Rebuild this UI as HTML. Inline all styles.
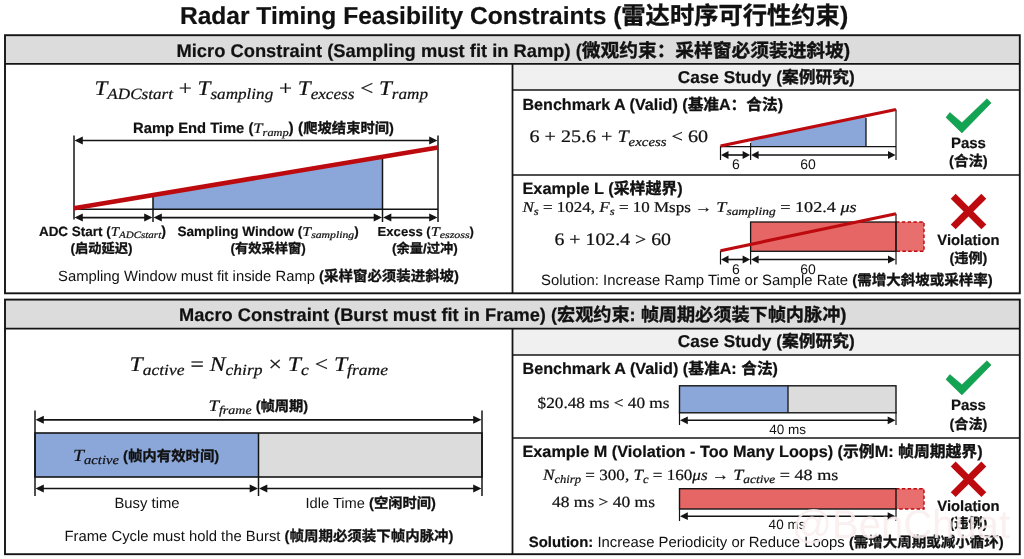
<!DOCTYPE html>
<html lang="zh"><head><meta charset="utf-8"><title>Radar Timing Feasibility Constraints</title>
<style>
html,body{margin:0;padding:0;background:#fff;}
body{width:1024px;height:559px;overflow:hidden;position:relative;font-family:"Liberation Sans","Noto Sans CJK SC",sans-serif;}
svg{position:absolute;left:0;top:0;display:block;}
text{white-space:pre;}
.b{font-family:"Liberation Sans","Noto Sans CJK SC",sans-serif;font-weight:700;stroke:#111;stroke-width:0.2px;}
.c{font-family:"Liberation Sans","Noto Sans CJK SC",sans-serif;font-weight:700;stroke:#111;stroke-width:0.35px;}
.r{font-family:"Liberation Sans","Noto Sans CJK SC",sans-serif;font-weight:400;}
.i{font-family:"Liberation Serif","Noto Serif CJK SC",serif;font-style:italic;stroke:#111;stroke-width:0.22px;}
.m{font-family:"Liberation Serif","Noto Serif CJK SC",serif;stroke:#111;stroke-width:0.22px;}
</style></head><body>
<svg width="1024" height="559" viewBox="0 0 1024 559">
<rect x="5" y="35.2" width="1014.8" height="28.599999999999994" fill="#dcdcdc"/>
<rect x="512.5" y="63.8" width="507" height="26.200000000000003" fill="#f0f0f0"/>
<rect x="5" y="35.2" width="1014.8" height="258.1" fill="none" stroke="#141414" stroke-width="1.9"/>
<line x1="5" y1="63.8" x2="1019.5" y2="63.8" stroke="#141414" stroke-width="1.8"/>
<line x1="512.5" y1="63.8" x2="512.5" y2="293.3" stroke="#141414" stroke-width="1.8"/>
<line x1="512.5" y1="90" x2="1019.5" y2="90" stroke="#141414" stroke-width="1.6"/>
<line x1="512.5" y1="175.0" x2="1019.5" y2="175.0" stroke="#141414" stroke-width="1.6"/>
<rect x="5" y="299.6" width="1014.8" height="29.0" fill="#dcdcdc"/>
<rect x="512.5" y="328.6" width="507" height="26.399999999999977" fill="#f0f0f0"/>
<rect x="5" y="299.6" width="1014.8" height="254.60000000000002" fill="none" stroke="#141414" stroke-width="1.9"/>
<line x1="5" y1="328.6" x2="1019.5" y2="328.6" stroke="#141414" stroke-width="1.8"/>
<line x1="512.5" y1="328.6" x2="512.5" y2="554.2" stroke="#141414" stroke-width="1.8"/>
<line x1="512.5" y1="355" x2="1019.5" y2="355" stroke="#141414" stroke-width="1.6"/>
<line x1="512.5" y1="438.0" x2="1019.5" y2="438.0" stroke="#141414" stroke-width="1.6"/>
<polygon points="153,209.2 153,195.10 382.5,156.77 382.5,209.2" fill="#8ba7d9"/>
<line x1="74" y1="209.2" x2="438" y2="209.2" stroke="#141414" stroke-width="1.5"/>
<line x1="74" y1="135.5" x2="74" y2="219.5" stroke="#141414" stroke-width="1.5"/>
<line x1="438" y1="135.5" x2="438" y2="222" stroke="#141414" stroke-width="1.5"/>
<line x1="153" y1="195" x2="153" y2="222" stroke="#141414" stroke-width="1.5"/>
<line x1="382.5" y1="157" x2="382.5" y2="222" stroke="#141414" stroke-width="1.5"/>
<line x1="74" y1="208.3" x2="438" y2="147.5" stroke="#bd0a0e" stroke-width="4.6"/>
<line x1="81.80" y1="140.5" x2="430.20" y2="140.5" stroke="#141414" stroke-width="1.7"/><polygon points="74.50,140.5 82.80,136.5 82.80,144.5" fill="#141414"/><polygon points="437.50,140.5 429.20,136.5 429.20,144.5" fill="#141414"/>
<line x1="81.80" y1="217.6" x2="145.20" y2="217.6" stroke="#141414" stroke-width="1.7"/><polygon points="74.50,217.6 82.80,213.6 82.80,221.6" fill="#141414"/><polygon points="152.50,217.6 144.20,213.6 144.20,221.6" fill="#141414"/>
<line x1="160.80" y1="217.6" x2="374.70" y2="217.6" stroke="#141414" stroke-width="1.7"/><polygon points="153.50,217.6 161.80,213.6 161.80,221.6" fill="#141414"/><polygon points="382.00,217.6 373.70,213.6 373.70,221.6" fill="#141414"/>
<line x1="390.30" y1="217.6" x2="430.20" y2="217.6" stroke="#141414" stroke-width="1.7"/><polygon points="383.00,217.6 391.30,213.6 391.30,221.6" fill="#141414"/><polygon points="437.50,217.6 429.20,213.6 429.20,221.6" fill="#141414"/>
<polygon points="750.6,146.6 750.6,139.74 866,115.74 866,146.6" fill="#8ba7d9"/>
<line x1="720.5" y1="146.6" x2="896" y2="146.6" stroke="#141414" stroke-width="1.3"/>
<line x1="720.5" y1="146" x2="720.5" y2="160" stroke="#141414" stroke-width="1.2"/>
<line x1="750.6" y1="143" x2="750.6" y2="160" stroke="#141414" stroke-width="1.2"/>
<line x1="866" y1="118" x2="866" y2="146.6" stroke="#141414" stroke-width="1.3"/>
<line x1="896" y1="109.5" x2="896" y2="160" stroke="#141414" stroke-width="1.2"/>
<line x1="720.5" y1="146" x2="896" y2="109.5" stroke="#bd0a0e" stroke-width="3.2"/>
<line x1="727.50" y1="155" x2="743.60" y2="155" stroke="#141414" stroke-width="1.6"/><polygon points="721.00,155 728.50,151.1 728.50,158.9" fill="#141414"/><polygon points="750.10,155 742.60,151.1 742.60,158.9" fill="#141414"/>
<line x1="757.60" y1="155" x2="889.00" y2="155" stroke="#141414" stroke-width="1.6"/><polygon points="751.10,155 758.60,151.1 758.60,158.9" fill="#141414"/><polygon points="895.50,155 888.00,151.1 888.00,158.9" fill="#141414"/>
<rect x="896" y="222" width="28" height="29.3" fill="#e96e6e"/>
<path d="M896 222 H924 V251.3 H896" fill="none" stroke="#bd0a0e" stroke-width="1.4" stroke-dasharray="3.5 2.3"/>
<rect x="750.6" y="222" width="145.4" height="29.3" fill="#e66666" stroke="#141414" stroke-width="1.3"/>
<line x1="720.5" y1="250.7" x2="720.5" y2="264.5" stroke="#141414" stroke-width="1.2"/>
<line x1="750.6" y1="251" x2="750.6" y2="264.5" stroke="#141414" stroke-width="1.2"/>
<line x1="896" y1="213.7" x2="896" y2="264.5" stroke="#141414" stroke-width="1.2"/>
<line x1="720.5" y1="250.7" x2="896" y2="213.7" stroke="#bd0a0e" stroke-width="3.2"/>
<line x1="727.50" y1="259.5" x2="743.60" y2="259.5" stroke="#141414" stroke-width="1.6"/><polygon points="721.00,259.5 728.50,255.6 728.50,263.4" fill="#141414"/><polygon points="750.10,259.5 742.60,255.6 742.60,263.4" fill="#141414"/>
<line x1="757.60" y1="259.5" x2="889.00" y2="259.5" stroke="#141414" stroke-width="1.6"/><polygon points="751.10,259.5 758.60,255.6 758.60,263.4" fill="#141414"/><polygon points="895.50,259.5 888.00,255.6 888.00,263.4" fill="#141414"/>
<polygon points="949.8,112.5 961.9,122.7 987.0,98.7 991.1,102.9 961.9,132.9 946.0,117.4" fill="#12a452" stroke="#0e8f47" stroke-width="0.5"/>
<polygon points="949.8,374.5 961.9,384.7 987.0,360.7 991.1,364.9 961.9,394.9 946.0,379.4" fill="#12a452" stroke="#0e8f47" stroke-width="0.5"/>
<line x1="953.2" y1="196.29999999999998" x2="983.8" y2="226.9" stroke="#bd0a0e" stroke-width="6.9"/><line x1="983.8" y1="196.29999999999998" x2="953.2" y2="226.9" stroke="#bd0a0e" stroke-width="6.9"/>
<line x1="953.2" y1="464.0" x2="983.8" y2="494.6" stroke="#bd0a0e" stroke-width="6.9"/><line x1="983.8" y1="464.0" x2="953.2" y2="494.6" stroke="#bd0a0e" stroke-width="6.9"/>
<rect x="35" y="433" width="223.5" height="44" fill="#8ba7d9"/>
<rect x="258.5" y="433" width="223.5" height="44" fill="#dcdcdc"/>
<rect x="35" y="433" width="447" height="44" fill="none" stroke="#141414" stroke-width="1.6"/>
<line x1="35" y1="410.5" x2="35" y2="496" stroke="#141414" stroke-width="1.5"/>
<line x1="482" y1="410.5" x2="482" y2="496" stroke="#141414" stroke-width="1.5"/>
<line x1="258.5" y1="433" x2="258.5" y2="496" stroke="#141414" stroke-width="1.5"/>
<line x1="42.80" y1="419.8" x2="474.20" y2="419.8" stroke="#141414" stroke-width="1.7"/><polygon points="35.50,419.8 43.80,415.8 43.80,423.8" fill="#141414"/><polygon points="481.50,419.8 473.20,415.8 473.20,423.8" fill="#141414"/>
<line x1="42.80" y1="488.5" x2="250.70" y2="488.5" stroke="#141414" stroke-width="1.7"/><polygon points="35.50,488.5 43.80,484.5 43.80,492.5" fill="#141414"/><polygon points="258.00,488.5 249.70,484.5 249.70,492.5" fill="#141414"/>
<line x1="266.30" y1="488.5" x2="474.20" y2="488.5" stroke="#141414" stroke-width="1.7"/><polygon points="259.00,488.5 267.30,484.5 267.30,492.5" fill="#141414"/><polygon points="481.50,488.5 473.20,484.5 473.20,492.5" fill="#141414"/>
<rect x="679.5" y="385.8" width="108.5" height="27" fill="#8ba7d9"/>
<rect x="788" y="385.8" width="108" height="27" fill="#dcdcdc"/>
<rect x="679.5" y="385.8" width="216.5" height="27" fill="none" stroke="#141414" stroke-width="1.4"/>
<line x1="788" y1="385.8" x2="788" y2="412.8" stroke="#141414" stroke-width="1.3"/>
<line x1="679.5" y1="412" x2="679.5" y2="425" stroke="#141414" stroke-width="1.2"/>
<line x1="896" y1="412" x2="896" y2="425" stroke="#141414" stroke-width="1.2"/>
<line x1="686.80" y1="420.3" x2="888.70" y2="420.3" stroke="#141414" stroke-width="1.6"/><polygon points="680.00,420.3 687.80,416.40000000000003 687.80,424.2" fill="#141414"/><polygon points="895.50,420.3 887.70,416.40000000000003 887.70,424.2" fill="#141414"/>
<rect x="896" y="488.7" width="28" height="20.3" fill="#e96e6e"/>
<path d="M896 488.7 H924 V509 H896" fill="none" stroke="#bd0a0e" stroke-width="1.4" stroke-dasharray="3.5 2.3"/>
<rect x="679.5" y="488.7" width="216.5" height="20.3" fill="#e66666" stroke="#141414" stroke-width="1.4"/>
<line x1="679.5" y1="509" x2="679.5" y2="521" stroke="#141414" stroke-width="1.2"/>
<line x1="896" y1="509" x2="896" y2="521" stroke="#141414" stroke-width="1.2"/>
<line x1="686.80" y1="516.2" x2="888.70" y2="516.2" stroke="#141414" stroke-width="1.6"/><polygon points="680.00,516.2 687.80,512.3000000000001 687.80,520.1" fill="#141414"/><polygon points="895.50,516.2 887.70,512.3000000000001 887.70,520.1" fill="#141414"/>
<g text-rendering="geometricPrecision">
<g fill="#111"><text class="b" font-size="24.00" transform="translate(180.00 23.80) scale(1.0224 1.0224)">Radar Timing Feasibility Constraints (</text><text class="c" font-size="23.40" transform="translate(621.30 23.80) scale(1.0384 1.0384)">雷达时序可行性约束</text><text class="b" font-size="24.00" transform="translate(839.89 23.80) scale(1.0384 1.0384)">)</text></g>
<g fill="#111"><text class="b" font-size="17.50" transform="translate(176.50 56.60) scale(1.0474 1.0474)">Micro Constraint (Sampling must fit in Ramp) (</text><text class="c" font-size="17.06" transform="translate(581.80 56.60) scale(1.0978 1.0978)">微观约束：采样窗必须装进斜坡</text><text class="b" font-size="17.50" transform="translate(843.80 56.60) scale(1.0978 1.0978)">)</text></g>
<g fill="#111"><text class="i" font-size="21.00" transform="translate(94.50 95.00) scale(1.1016 1.0000)">T</text><text class="i" font-size="15.54" transform="translate(107.37 99.20) scale(1.1016 1.0000)">ADCstart</text><text class="m" font-size="21.00" transform="translate(172.97 95.00) scale(1.1016 1.0000)"> + </text><text class="i" font-size="21.00" transform="translate(197.58 95.00) scale(1.1016 1.0000)">T</text><text class="i" font-size="15.54" transform="translate(210.46 99.20) scale(1.1016 1.0000)">sampling</text><text class="m" font-size="21.00" transform="translate(273.20 95.00) scale(1.1016 1.0000)"> + </text><text class="i" font-size="21.00" transform="translate(297.81 95.00) scale(1.1016 1.0000)">T</text><text class="i" font-size="15.54" transform="translate(310.68 99.20) scale(1.1016 1.0000)">excess</text><text class="m" font-size="21.00" transform="translate(354.38 95.00) scale(1.1016 1.0000)"> &lt; </text><text class="i" font-size="21.00" transform="translate(379.00 95.00) scale(1.1016 1.0000)">T</text><text class="i" font-size="15.54" transform="translate(391.87 99.20) scale(1.1016 1.0000)">ramp</text></g>
<g fill="#111"><text class="b" font-size="14.50" transform="translate(133.10 133.00) scale(1.0172 1.0172)">Ramp End Time (</text><text class="i" font-size="14.60" transform="translate(253.30 133.00) scale(1.1416 1.0000)">T</text><text class="i" font-size="10.80" transform="translate(262.58 135.92) scale(1.1416 1.0000)">ramp</text><text class="b" font-size="14.50" transform="translate(288.60 133.00) scale(1.0740 1.0740)">) (</text><text class="c" font-size="14.14" transform="translate(303.30 133.00) scale(1.0111 1.0111)">爬坡结束时间</text><text class="b" font-size="14.50" transform="translate(389.00 133.00) scale(1.0111 1.0111)">)</text></g>
<g fill="#111"><text class="b" font-size="14.50" transform="translate(38.90 235.70) scale(0.9296 0.9296)">ADC Start (</text><text class="i" font-size="13.20" transform="translate(110.80 235.70) scale(1.1251 1.0000)">T</text><text class="i" font-size="9.77" transform="translate(119.06 238.34) scale(1.1251 1.0000)">ADCstart</text><text class="b" font-size="14.50" transform="translate(161.20 235.70) scale(0.9910 0.9910)">)</text></g>
<g fill="#111"><text class="b" font-size="13.60" transform="translate(70.46 253.20)">(</text><text class="c" font-size="13.26" transform="translate(74.99 253.20)">启动延迟</text><text class="b" font-size="13.60" transform="translate(128.01 253.20)">)</text></g>
<g fill="#111"><text class="b" font-size="14.50" transform="translate(177.50 235.70) scale(0.9342 0.9342)">Sampling Window (</text><text class="i" font-size="13.20" transform="translate(302.30 235.70) scale(1.2026 1.0000)">T</text><text class="i" font-size="9.77" transform="translate(311.13 238.34) scale(1.2026 1.0000)">sampling</text><text class="b" font-size="14.50" transform="translate(354.20 235.70) scale(0.9290 0.9290)">)</text></g>
<g fill="#111"><text class="b" font-size="13.60" transform="translate(230.54 253.20)">(</text><text class="c" font-size="13.26" transform="translate(235.07 253.20)">有效采样窗</text><text class="b" font-size="13.60" transform="translate(301.33 253.20)">)</text></g>
<g fill="#111"><text class="b" font-size="14.50" transform="translate(377.60 235.70) scale(0.9022 0.9022)">Excess (</text><text class="i" font-size="13.20" transform="translate(430.70 235.70) scale(1.2246 1.0000)">T</text><text class="i" font-size="9.77" transform="translate(439.69 238.34) scale(1.2246 1.0000)">eszoss</text><text class="b" font-size="14.50" transform="translate(469.60 235.70) scale(0.9084 0.9084)">)</text></g>
<g fill="#111"><text class="b" font-size="13.60" transform="translate(392.02 253.20)">(</text><text class="c" font-size="13.26" transform="translate(396.56 253.20)">余量/过冲</text><text class="b" font-size="13.60" transform="translate(453.24 253.20)">)</text></g>
<g fill="#111"><text class="r" font-size="15.50" transform="translate(58.00 281.00) scale(0.9561 0.9561)">Sampling Window must fit inside Ramp </text><text class="b" font-size="15.50" transform="translate(319.09 281.00) scale(0.9561 0.9561)">(</text><text class="c" font-size="15.11" transform="translate(324.04 281.00) scale(0.9561 0.9561)">采样窗必须装进斜坡</text><text class="b" font-size="15.50" transform="translate(454.06 281.00) scale(0.9561 0.9561)">)</text></g>
<g fill="#111"><text class="b" font-size="15.50" transform="translate(677.80 83.00) scale(1.1091 1.1091)">Case Study (</text><text class="c" font-size="15.11" transform="translate(781.93 83.00) scale(1.1091 1.1091)">案例研究</text><text class="b" font-size="15.50" transform="translate(848.96 83.00) scale(1.1091 1.1091)">)</text></g>
<g fill="#111"><text class="b" font-size="15.00" transform="translate(522.50 109.50) scale(1.0728 1.0728)">Benchmark A (Valid) (</text><text class="c" font-size="14.62" transform="translate(687.64 109.50) scale(1.0728 1.0728)">基准</text><text class="b" font-size="15.00" transform="translate(718.99 109.50) scale(1.0728 1.0728)">A</text><text class="c" font-size="14.62" transform="translate(730.62 109.50) scale(1.0728 1.0728)">：合法</text><text class="b" font-size="15.00" transform="translate(777.64 109.50) scale(1.0728 1.0728)">)</text></g>
<g fill="#111"><text class="m" font-size="17.50" transform="translate(529.50 142.00) scale(1.1477 1.0000)">6 + 25.6 + </text><text class="i" font-size="17.50" transform="translate(617.44 142.00) scale(1.1477 1.0000)">T</text><text class="i" font-size="12.95" transform="translate(628.61 145.50) scale(1.1477 1.0000)">excess</text><text class="m" font-size="17.50" transform="translate(666.54 142.00) scale(1.1477 1.0000)"> &lt; 60</text></g>
<g fill="#111"><text class="r" font-size="14.00" transform="translate(731.90 168.90)">6</text></g>
<g fill="#111"><text class="r" font-size="14.00" transform="translate(800.21 168.90)">60</text></g>
<g fill="#111"><text class="b" font-size="15.00" transform="translate(950.88 148.20)">Pass</text></g>
<g fill="#111"><text class="b" font-size="14.80" transform="translate(949.03 165.50)">(</text><text class="c" font-size="14.43" transform="translate(953.97 165.50)">合法</text><text class="b" font-size="14.80" transform="translate(982.83 165.50)">)</text></g>
<g fill="#111"><text class="b" font-size="15.50" transform="translate(522.50 193.75) scale(1.0517 1.0517)">Example L (</text><text class="c" font-size="15.11" transform="translate(613.70 193.75) scale(1.0517 1.0517)">采样越界</text><text class="b" font-size="15.50" transform="translate(677.26 193.75) scale(1.0517 1.0517)">)</text></g>
<g fill="#111"><text class="i" font-size="15.00" transform="translate(522.50 212.00) scale(1.1330 1.0000)">N</text><text class="i" font-size="11.10" transform="translate(533.85 215.00) scale(1.1330 1.0000)">s</text><text class="m" font-size="15.00" transform="translate(538.75 212.00) scale(1.1330 1.0000)"> = 1024, </text><text class="i" font-size="15.00" transform="translate(599.33 212.00) scale(1.1330 1.0000)">F</text><text class="i" font-size="11.10" transform="translate(609.73 215.00) scale(1.1330 1.0000)">s</text><text class="m" font-size="15.00" transform="translate(614.63 212.00) scale(1.1330 1.0000)"> = 10 Msps → </text><text class="i" font-size="15.00" transform="translate(716.30 212.00) scale(1.2108 1.0000)">T</text><text class="i" font-size="11.10" transform="translate(726.40 215.00) scale(1.2108 1.0000)">sampling</text><text class="m" font-size="15.00" transform="translate(775.67 212.00) scale(1.2108 1.0000)"> = 102.4 </text><text class="i" font-size="15.00" transform="translate(840.41 212.00) scale(1.2108 1.0000)">μs</text></g>
<g fill="#111"><text class="m" font-size="17.50" transform="translate(554.50 244.50) scale(1.1324 1.0000)">6 + 102.4 &gt; 60</text></g>
<g fill="#111"><text class="r" font-size="14.00" transform="translate(731.90 274.20)">6</text></g>
<g fill="#111"><text class="r" font-size="14.00" transform="translate(800.21 274.20)">60</text></g>
<g fill="#111"><text class="b" font-size="14.80" transform="translate(937.29 244.60)">Violation</text></g>
<g fill="#111"><text class="b" font-size="14.50" transform="translate(949.42 263.00)">(</text><text class="c" font-size="14.14" transform="translate(954.27 263.00)">违例</text><text class="b" font-size="14.50" transform="translate(982.53 263.00)">)</text></g>
<g fill="#111"><text class="r" font-size="15.00" transform="translate(541.00 285.00) scale(0.9928 0.9928)">Solution: Increase Ramp Time or Sample Rate </text><text class="b" font-size="15.00" transform="translate(852.23 285.00) scale(0.9928 0.9928)">(</text><text class="c" font-size="14.62" transform="translate(857.20 285.00) scale(0.9928 0.9928)">需增大斜坡或采样率</text><text class="b" font-size="15.00" transform="translate(987.74 285.00) scale(0.9928 0.9928)">)</text></g>
<g fill="#111"><text class="b" font-size="17.50" transform="translate(179.00 320.75) scale(1.0423 1.0423)">Macro Constraint (Burst must fit in Frame) (</text><text class="c" font-size="17.06" transform="translate(557.00 320.75) scale(1.0645 1.0645)">宏观约束: 帧周期必须装下帧内脉冲</text><text class="b" font-size="17.50" transform="translate(840.30 320.75) scale(1.0645 1.0645)">)</text></g>
<g fill="#111"><text class="i" font-size="21.00" transform="translate(129.50 370.70) scale(1.1281 1.0000)">T</text><text class="i" font-size="15.54" transform="translate(142.68 374.90) scale(1.1281 1.0000)">active</text><text class="m" font-size="21.00" transform="translate(184.51 370.70) scale(1.1281 1.0000)"> = </text><text class="i" font-size="21.00" transform="translate(209.72 370.70) scale(1.1281 1.0000)">N</text><text class="i" font-size="15.54" transform="translate(225.53 374.90) scale(1.1281 1.0000)">chirp</text><text class="m" font-size="21.00" transform="translate(262.53 370.70) scale(1.1281 1.0000)"> × </text><text class="i" font-size="21.00" transform="translate(287.74 370.70) scale(1.1281 1.0000)">T</text><text class="i" font-size="15.54" transform="translate(300.92 374.90) scale(1.1281 1.0000)">c</text><text class="m" font-size="21.00" transform="translate(308.71 370.70) scale(1.1281 1.0000)"> &lt; </text><text class="i" font-size="21.00" transform="translate(333.92 370.70) scale(1.1281 1.0000)">T</text><text class="i" font-size="15.54" transform="translate(347.11 374.90) scale(1.1281 1.0000)">frame</text></g>
<g fill="#111"><text class="i" font-size="16.00" transform="translate(208.40 411.20) scale(1.1831 1.0000)">T</text><text class="i" font-size="11.84" transform="translate(218.94 414.40) scale(1.1831 1.0000)">frame</text><text class="b" font-size="14.80" transform="translate(251.60 411.20) scale(0.9884 0.9884)"> (</text><text class="c" font-size="14.43" transform="translate(260.54 411.20) scale(0.9884 0.9884)">帧周期</text><text class="b" font-size="14.80" transform="translate(303.32 411.20) scale(0.9884 0.9884)">)</text></g>
<g fill="#111"><text class="i" font-size="17.00" transform="translate(73.10 460.80) scale(1.1595 1.0000)">T</text><text class="i" font-size="12.58" transform="translate(84.08 464.20) scale(1.1595 1.0000)">active</text><text class="b" font-size="14.80" transform="translate(118.90 460.80) scale(0.9987 0.9987)"> (</text><text class="c" font-size="14.43" transform="translate(127.94 460.80) scale(0.9987 0.9987)">帧内有效时间</text><text class="b" font-size="14.80" transform="translate(214.37 460.80) scale(0.9987 0.9987)">)</text></g>
<g fill="#111"><text class="r" font-size="15.50" transform="translate(114.50 507.50) scale(0.9550 0.9550)">Busy time</text></g>
<g fill="#111"><text class="r" font-size="15.50" transform="translate(305.50 507.50) scale(0.9458 0.9458)">Idle Time </text><text class="b" font-size="15.50" transform="translate(369.06 507.50) scale(0.9458 0.9458)">(</text><text class="c" font-size="15.11" transform="translate(373.95 507.50) scale(0.9458 0.9458)">空闲时间</text><text class="b" font-size="15.50" transform="translate(431.11 507.50) scale(0.9458 0.9458)">)</text></g>
<g fill="#111"><text class="r" font-size="15.50" transform="translate(64.50 541.00) scale(0.9568 0.9568)">Frame Cycle must hold the Burst </text><text class="b" font-size="15.50" transform="translate(284.57 541.00) scale(0.9568 0.9568)">(</text><text class="c" font-size="15.11" transform="translate(289.52 541.00) scale(0.9568 0.9568)">帧周期必须装下帧内脉冲</text><text class="b" font-size="15.50" transform="translate(448.55 541.00) scale(0.9568 0.9568)">)</text></g>
<g fill="#111"><text class="b" font-size="15.50" transform="translate(677.80 347.30) scale(1.1091 1.1091)">Case Study (</text><text class="c" font-size="15.11" transform="translate(781.93 347.30) scale(1.1091 1.1091)">案例研究</text><text class="b" font-size="15.50" transform="translate(848.96 347.30) scale(1.1091 1.1091)">)</text></g>
<g fill="#111"><text class="b" font-size="15.00" transform="translate(522.50 373.75) scale(1.0764 1.0764)">Benchmark A (Valid) (</text><text class="c" font-size="14.62" transform="translate(688.19 373.75) scale(1.0764 1.0764)">基准</text><text class="b" font-size="15.00" transform="translate(719.64 373.75) scale(1.0764 1.0764)">A: </text><text class="c" font-size="14.62" transform="translate(741.17 373.75) scale(1.0764 1.0764)">合法</text><text class="b" font-size="15.00" transform="translate(772.62 373.75) scale(1.0764 1.0764)">)</text></g>
<g fill="#111"><text class="m" font-size="15.50" transform="translate(537.50 408.00) scale(1.1135 1.0000)">$20.48 ms &lt; 40 ms</text></g>
<g fill="#111"><text class="r" font-size="13.50" transform="translate(769.22 434.00)">40 ms</text></g>
<g fill="#111"><text class="b" font-size="15.00" transform="translate(950.88 409.70)">Pass</text></g>
<g fill="#111"><text class="b" font-size="14.50" transform="translate(949.42 428.50)">(</text><text class="c" font-size="14.14" transform="translate(954.27 428.50)">合法</text><text class="b" font-size="14.50" transform="translate(982.53 428.50)">)</text></g>
<g fill="#111"><text class="b" font-size="15.00" transform="translate(522.50 457.00) scale(1.0824 1.0824)">Example M (Violation - Too Many Loops) (</text><text class="c" font-size="14.62" transform="translate(843.03 457.00) scale(1.0824 1.0824)">示例</text><text class="b" font-size="15.00" transform="translate(874.66 457.00) scale(1.0824 1.0824)">M: </text><text class="c" font-size="14.62" transform="translate(898.12 457.00) scale(1.0824 1.0824)">帧周期越界</text><text class="b" font-size="15.00" transform="translate(977.19 457.00) scale(1.0824 1.0824)">)</text></g>
<g fill="#111"><text class="i" font-size="15.50" transform="translate(543.00 479.50) scale(1.1020 1.0000)">N</text><text class="i" font-size="11.47" transform="translate(554.40 482.60) scale(1.1020 1.0000)">chirp</text><text class="m" font-size="15.50" transform="translate(581.09 479.50) scale(1.1020 1.0000)"> = 300, </text><text class="i" font-size="15.50" transform="translate(633.43 479.50) scale(1.1020 1.0000)">T</text><text class="i" font-size="11.47" transform="translate(642.94 482.60) scale(1.1020 1.0000)">c</text><text class="m" font-size="15.50" transform="translate(648.55 479.50) scale(1.1020 1.0000)"> = 160</text><text class="i" font-size="15.50" transform="translate(692.36 479.50) scale(1.1020 1.0000)">μs</text><text class="m" font-size="15.50" transform="translate(707.58 479.50) scale(1.1020 1.0000)"> → </text><text class="i" font-size="15.50" transform="translate(733.20 479.50) scale(1.1680 1.0000)">T</text><text class="i" font-size="11.47" transform="translate(743.27 482.60) scale(1.1680 1.0000)">active</text><text class="m" font-size="15.50" transform="translate(775.27 479.50) scale(1.1680 1.0000)"> = 48 ms</text></g>
<g fill="#111"><text class="m" font-size="15.50" transform="translate(552.00 506.60) scale(1.1266 1.0000)">48 ms &gt; 40 ms</text></g>
<g fill="#111"><text class="r" font-size="13.50" transform="translate(768.62 528.70)">40 ms</text></g>
<g fill="#111"><text class="b" font-size="14.80" transform="translate(937.29 510.90)">Violation</text></g>
<g fill="#111"><text class="b" font-size="14.50" transform="translate(949.42 528.00)">(</text><text class="c" font-size="14.14" transform="translate(954.27 528.00)">违例</text><text class="b" font-size="14.50" transform="translate(982.53 528.00)">)</text></g>
<g fill="#111"><text class="b" font-size="15.00" transform="translate(528.75 546.80) scale(0.9923 0.9923)">Solution:</text><text class="r" font-size="15.00" transform="translate(593.24 546.80) scale(0.9923 0.9923)"> Increase Periodicity or Reduce Loops </text><text class="b" font-size="15.00" transform="translate(848.90 546.80) scale(0.9923 0.9923)">(</text><text class="c" font-size="14.62" transform="translate(853.86 546.80) scale(0.9923 0.9923)">需增大周期或减小循环</text><text class="b" font-size="15.00" transform="translate(998.84 546.80) scale(0.9923 0.9923)">)</text></g>
<g fill="#faefef" opacity="0.88"><text class="r" font-size="40.00" transform="translate(791.40 538.00) scale(1.0004 1.0004)">@BenChuat</text></g>
</g>

</svg>
</body></html>
